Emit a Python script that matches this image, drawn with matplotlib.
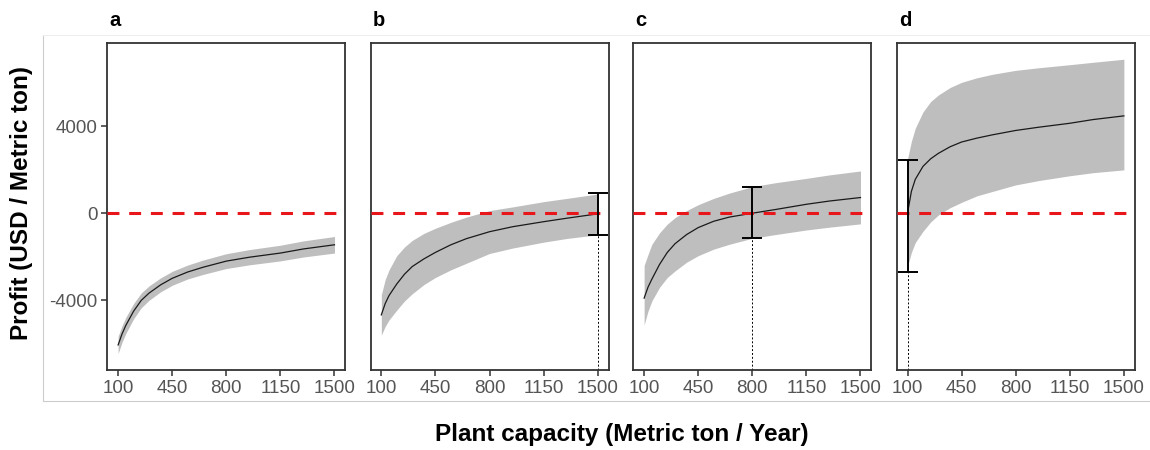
import numpy as np
import matplotlib
matplotlib.use("Agg")
from matplotlib import pyplot as plt
from matplotlib.lines import Line2D

plt.rcParams['font.family'] = ['Liberation Sans', 'DejaVu Sans']
plt.rcParams['axes.unicode_minus'] = False

# plant capacity (metric ton / year) where the curves were read
capacity = [100, 125, 150, 200, 250, 300, 375, 450, 550, 650, 800, 950, 1150, 1300, 1500]

# profit (USD / metric ton): mean, lower and upper edge of the grey band
a_mean = [-6050, -5550, -5150, -4500, -4000, -3670, -3290, -2990, -2700, -2480, -2200, -2020, -1830, -1640, -1450]
a_lo = [-6450, -5930, -5520, -4850, -4340, -4000, -3610, -3310, -3020, -2810, -2540, -2370, -2190, -2010, -1830]
a_hi = [-5650, -5170, -4780, -4150, -3660, -3340, -2970, -2670, -2380, -2150, -1860, -1670, -1470, -1270, -1070]

b_mean = [-4670, -4150, -3780, -3250, -2800, -2450, -2100, -1800, -1450, -1170, -850, -620, -390, -230, -30]
b_lo = [-5600, -5200, -4900, -4450, -4030, -3700, -3280, -2950, -2600, -2300, -1850, -1600, -1330, -1160, -990]
b_hi = [-3750, -3050, -2600, -1950, -1550, -1250, -930, -690, -420, -180, 120, 290, 530, 680, 880]

c_mean = [-3900, -3400, -3030, -2350, -1800, -1400, -980, -660, -370, -180, 0, 170, 410, 560, 720]
c_lo = [-5130, -4500, -4030, -3400, -2950, -2650, -2250, -1950, -1650, -1430, -1150, -980, -770, -640, -490]
c_hi = [-2400, -1900, -1430, -900, -500, -200, 120, 390, 680, 920, 1220, 1400, 1600, 1760, 1940]

d_mean = [0, 1000, 1550, 2150, 2500, 2750, 3050, 3270, 3450, 3600, 3800, 3950, 4130, 4300, 4470]
d_lo = [-2450, -1800, -1350, -830, -400, -80, 250, 500, 800, 1000, 1300, 1500, 1720, 1860, 1990]
d_hi = [2500, 3300, 3900, 4650, 5130, 5430, 5770, 6010, 6220, 6380, 6560, 6680, 6820, 6930, 7070]

# break-even error bars: capacity, mean, lower, upper
err_b = [1500, -30, -996, 918]
err_c = [800, 0, -1148, 1193]
err_d = [100, 0, -2710, 2446]

panel_names = ['a', 'b', 'c', 'd']
x_ticks = [100, 450, 800, 1150, 1500]
y_ticks = [-4000, 0, 4000]

panels = [
    (a_mean, a_lo, a_hi, None),
    (b_mean, b_lo, b_hi, err_b),
    (c_mean, c_lo, c_hi, err_c),
    (d_mean, d_lo, d_hi, err_d),
]

fig = plt.figure(figsize=(11.5, 4.5), dpi=100)

# faint frame around the plotting region, as in the original image
fig.add_artist(Line2D([43/1150, 43/1150], [1-35/450, 1-401/450], color='#cccccc', lw=0.8))
fig.add_artist(Line2D([43/1150, 1.0], [1-401/450, 1-401/450], color='#cccccc', lw=0.8))
fig.add_artist(Line2D([43/1150, 1.0], [1-35/450, 1-35/450], color='#eeeeee', lw=0.8))

lefts = [107.3, 370.5, 633.3, 896.7]
w = 238/1150
bottom = 1 - 370/450
h = (370 - 42.7)/450
ylim = (-7200, 7830)

for i, (mean, lo, hi, err) in enumerate(panels):
    ax = fig.add_axes([lefts[i]/1150, bottom, w, h])
    ax.fill_between(capacity, lo, hi, color='#bebebe', lw=0, zorder=1)
    ax.plot(capacity, mean, color='#1a1a1a', lw=0.9, zorder=2)
    ax.axhline(0, color='#e8161b', lw=2.2, linestyle=(0, (3.9, 3.2)), zorder=3)
    if err is not None:
        ex, em, elo, ehi = err
        ax.errorbar([ex], [em], yerr=[[em - elo], [ehi - em]], fmt='none',
                    ecolor='black', elinewidth=1.4, capsize=7, capthick=1.4, zorder=4)
        ax.plot([ex, ex], [ylim[0], elo], color='black', lw=0.7, linestyle=(0, (2, 2)), zorder=2)
    ax.set_xlim(30, 1570)
    ax.set_ylim(*ylim)
    ax.set_xticks(x_ticks)
    ax.set_yticks(y_ticks)
    for s in ax.spines.values():
        s.set_color('#333333')
        s.set_linewidth(1.3)
    ax.tick_params(axis='both', colors='#333333', length=4, width=1.1,
                   labelsize=13.5, labelcolor='#555555', pad=3)
    if i > 0:
        ax.set_yticklabels([])
        ax.tick_params(axis='y', length=0)
    ax.text(0.01, 1.04, panel_names[i], transform=ax.transAxes, fontsize=14.5,
            fontweight='bold', ha='left', va='bottom')

fig.text(22/1150, 1 - 203/450, 'Profit (USD / Metric ton)', rotation=90,
         fontsize=17.5, fontweight='bold', ha='center', va='center')
fig.text(622/1150, 1 - 435/450, 'Plant capacity (Metric ton / Year)',
         fontsize=17.5, fontweight='bold', ha='center', va='center')

fig.savefig('out.png', dpi=100)
